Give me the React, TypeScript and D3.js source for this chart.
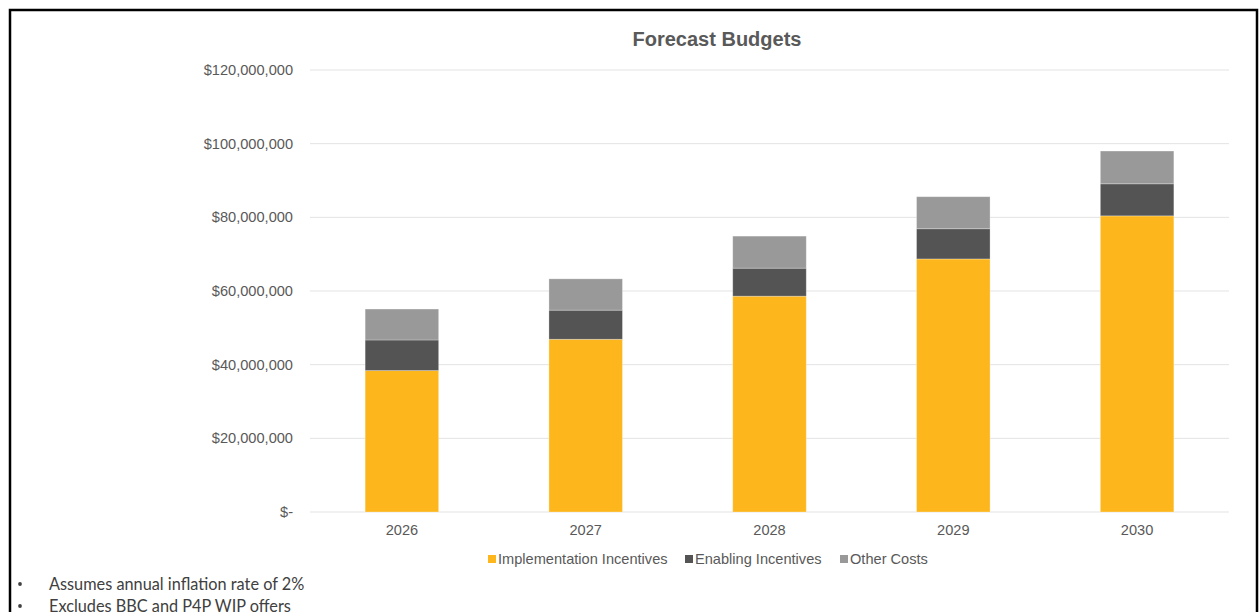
import React from "react";
import * as d3 from "d3";

const years = ["2026", "2027", "2028", "2029", "2030"];
const implementation = [38.4, 46.9, 58.6, 68.7, 80.4];
const enabling = [8.3, 7.9, 7.6, 8.2, 8.7];
const other = [8.4, 8.5, 8.7, 8.7, 8.9];
const seriesNames = ["Implementation Incentives", "Enabling Incentives", "Other Costs"];
const seriesColors = ["#FDB71C", "#545454", "#999999"];
const yTicks = [0, 20, 40, 60, 80, 100, 120];
const notes = ["Assumes annual inflation rate of 2%", "Excludes BBC and P4P WIP offers"];

export default function App() {
  const W = 1259, H = 612;
  const left = 310, right = 1229, top = 70, bottom = 512;
  const x = d3.scaleBand().domain(years).range([left, right]).paddingInner(0.6).paddingOuter(0.3);
  const y = d3.scaleLinear().domain([0, 120]).range([bottom, top]);
  const rows = years.map((yr, i) => ({ year: yr, a: implementation[i], b: enabling[i], c: other[i] }));
  const stack = d3.stack<any>().keys(["a", "b", "c"])(rows);
  const fmt = (v: number) => (v === 0 ? "$-" : "$" + d3.format(",")(v * 1e6));
  const legendX = [488, 685, 840];
  return (
    <svg width={W} height={H} style={{ position: "absolute", left: 0, top: 0, background: "#fff" }}>
      <rect x={0} y={0} width={W} height={H} fill="#fff" />
      <path d={`M10,${H} L10,10 L1257,10 L1257,${H}`} fill="none" stroke="#000" strokeWidth={2.5} />
      <text x={717} y={46} textAnchor="middle" fontFamily="Liberation Sans, Arial, sans-serif" fontWeight="bold" fontSize={20} fill="#595959">Forecast Budgets</text>
      {yTicks.map((t) => (
        <g key={t}>
          <line x1={left} x2={right} y1={y(t)} y2={y(t)} stroke="#e3e3e3" strokeWidth={1} />
          <text x={293} y={y(t) + 5} textAnchor="end" fontFamily="Liberation Sans, Arial, sans-serif" fontSize={14.6} fill="#595959">{fmt(t)}</text>
        </g>
      ))}
      {stack.map((s, si) => (
        <g key={si} fill={seriesColors[si]}>
          {s.map((d: any, i: number) => (
            <rect key={i} x={x(years[i])} width={x.bandwidth()} y={y(d[1])} height={y(d[0]) - y(d[1])} stroke="#ffffff" strokeOpacity={0.35} strokeWidth={0.8} />
          ))}
        </g>
      ))}
      {years.map((yr) => (
        <text key={yr} x={(x(yr) as number) + x.bandwidth() / 2} y={535} textAnchor="middle" fontFamily="Liberation Sans, Arial, sans-serif" fontSize={14.6} fill="#595959">{yr}</text>
      ))}
      {seriesNames.map((n, i) => (
        <g key={n}>
          <rect x={legendX[i]} y={555} width={8} height={8} fill={seriesColors[i]} />
          <text x={legendX[i] + 10} y={564} fontFamily="Liberation Sans, Arial, sans-serif" fontSize={14.6} fill="#595959">{n}</text>
        </g>
      ))}
      {notes.map((n, i) => (
        <g key={n}>
          <circle cx={20} cy={584 + i * 22} r={1.9} fill="#404040" />
          <text x={49} y={589.5 + i * 22} fontFamily="Lato, Carlito, Calibri, sans-serif" fontSize={16.3} fill="#404040">{n}</text>
        </g>
      ))}
    </svg>
  );
}
